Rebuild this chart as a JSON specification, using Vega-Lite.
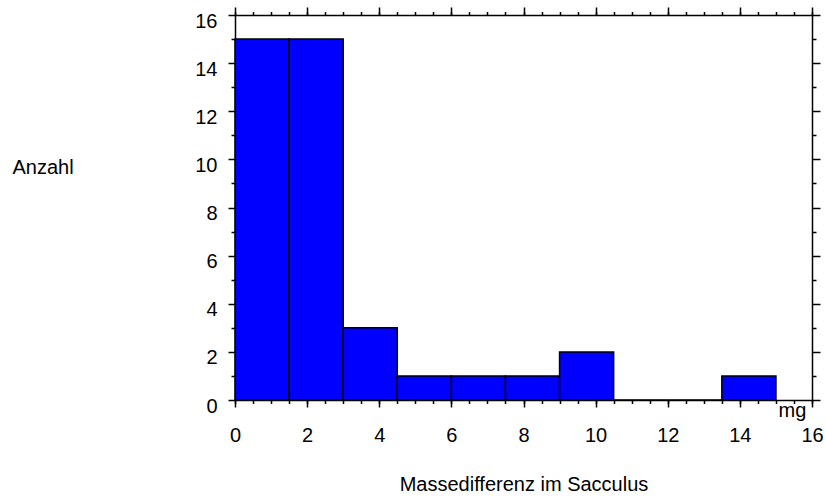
{
  "$schema": "https://vega.github.io/schema/vega-lite/v6.json",
  "autosize": "none",
  "width": 577,
  "height": 385,
  "padding": {"left": 235, "top": 15, "right": 13, "bottom": 97},
  "background": "white",
  "config": {
    "view": {"stroke": null},
    "axis": {
      "grid": false,
      "domainColor": "black",
      "domainWidth": 1.5,
      "tickColor": "black",
      "tickWidth": 1.5,
      "labelFont": "Liberation Sans",
      "labelFontSize": 20,
      "labelColor": "black",
      "labelOverlap": false,
      "labelFlush": false,
      "titleFont": "Liberation Sans",
      "titleFontSize": 20,
      "titleFontWeight": "normal",
      "titleColor": "black"
    }
  },
  "data": {
    "values": [
      {"start": 0, "end": 1.5, "count": 15},
      {"start": 1.5, "end": 3, "count": 15},
      {"start": 3, "end": 4.5, "count": 3},
      {"start": 4.5, "end": 6, "count": 1},
      {"start": 6, "end": 7.5, "count": 1},
      {"start": 7.5, "end": 9, "count": 1},
      {"start": 9, "end": 10.5, "count": 2},
      {"start": 10.5, "end": 12, "count": 0},
      {"start": 12, "end": 13.5, "count": 0},
      {"start": 13.5, "end": 15, "count": 1}
    ]
  },
  "resolve": {"axis": {"x": "independent", "y": "independent"}},
  "layer": [
    {
      "mark": {"type": "rect", "fill": "#0000FF", "stroke": "black", "strokeWidth": 1.5},
      "encoding": {
        "x": {"field": "start", "type": "quantitative",
          "scale": {"domain": [0, 16], "nice": false, "zero": false},
          "axis": {"orient": "bottom", "values": [0,2,4,6,8,10,12,14,16], "tickSize": 7, "labelPadding": 18,
            "title": "Massedifferenz im Sacculus", "titleY": 90, "titleBaseline": "alphabetic"}},
        "x2": {"field": "end"},
        "y": {"field": "count", "type": "quantitative",
          "scale": {"domain": [0, 16], "nice": false},
          "axis": {"orient": "left", "values": [0,2,4,6,8,10,12,14,16], "tickSize": 7, "labelPadding": 11, "labelOffset": 6,
            "title": "Anzahl", "titleAngle": 0, "titleX": -223, "titleY": 158, "titleAlign": "left", "titleBaseline": "alphabetic"}},
        "y2": {"datum": 0}
      }
    },
    {
      "mark": {"type": "point", "opacity": 0},
      "encoding": {
        "x": {"field": "start", "type": "quantitative",
          "axis": {"orient": "bottom", "values": [0,0.5,1,1.5,2,2.5,3,3.5,4,4.5,5,5.5,6,6.5,7,7.5,8,8.5,9,9.5,10,10.5,11,11.5,12,12.5,13,13.5,14,14.5,15,15.5,16],
            "tickSize": 3.5, "labels": false, "domain": false,
            "title": "mg", "titleX": 557, "titleY": 16, "titleAlign": "center", "titleBaseline": "alphabetic"}},
        "y": {"field": "count", "type": "quantitative",
          "axis": {"orient": "left", "values": [1,3,5,7,9,11,13,15], "tickSize": 4, "labels": false, "domain": false, "title": null}}
      }
    },
    {
      "mark": {"type": "point", "opacity": 0},
      "encoding": {
        "x": {"field": "start", "type": "quantitative",
          "axis": {"orient": "top", "values": [0,2,4,6,8,10,12,14,16], "tickSize": 8, "labels": false, "title": null}},
        "y": {"field": "count", "type": "quantitative",
          "axis": {"orient": "right", "values": [0,2,4,6,8,10,12,14,16], "tickSize": 8, "labels": false, "title": null}}
      }
    },
    {
      "mark": {"type": "point", "opacity": 0},
      "encoding": {
        "x": {"field": "start", "type": "quantitative",
          "axis": {"orient": "top", "values": [0,0.5,1,1.5,2,2.5,3,3.5,4,4.5,5,5.5,6,6.5,7,7.5,8,8.5,9,9.5,10,10.5,11,11.5,12,12.5,13,13.5,14,14.5,15,15.5,16],
            "tickSize": 3.5, "labels": false, "domain": false, "title": null}},
        "y": {"field": "count", "type": "quantitative",
          "axis": {"orient": "right", "values": [1,3,5,7,9,11,13,15], "tickSize": 4, "labels": false, "domain": false, "title": null}}
      }
    }
  ]
}
